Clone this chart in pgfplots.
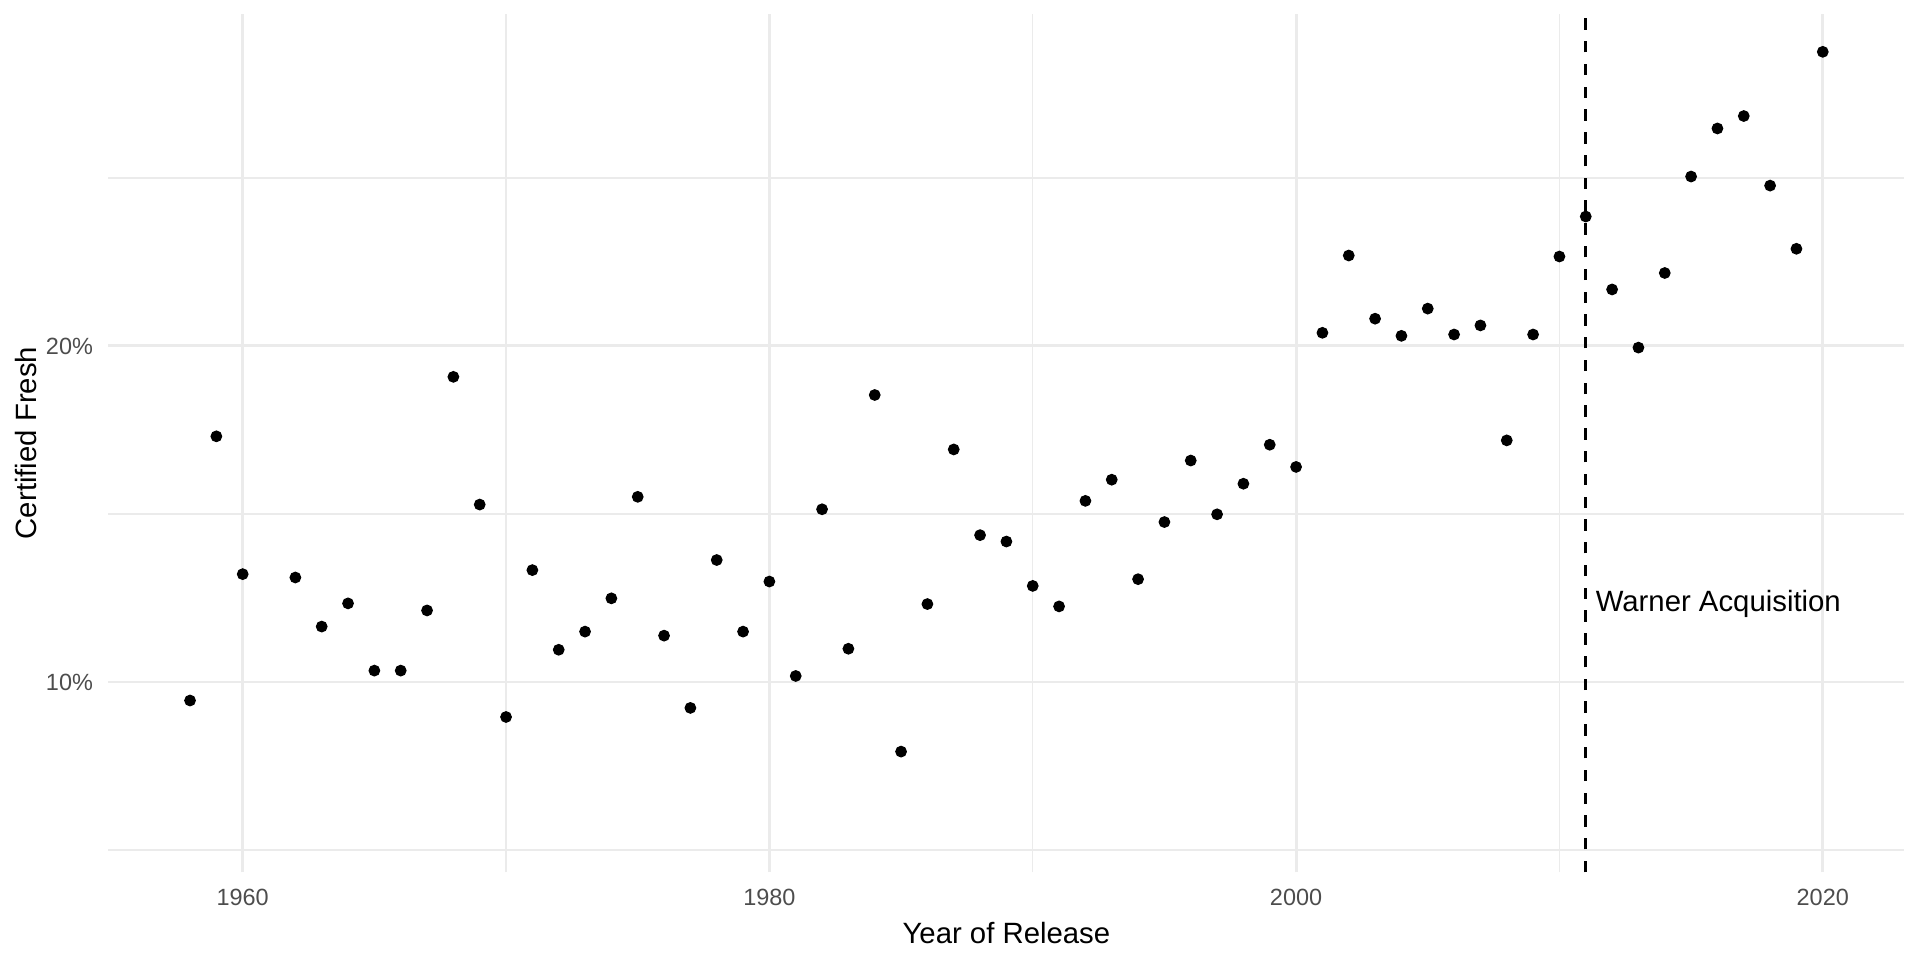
\documentclass[border=0pt]{standalone}
\usepackage{pgfplots}
\pgfplotsset{compat=1.18}
\usepackage{fontspec}
\setmainfont{Liberation Sans}
\definecolor{gridc}{HTML}{EBEBEB}
\definecolor{tickc}{HTML}{4D4D4D}
\begin{document}
\begin{tikzpicture}
\path[use as bounding box] (0,0) rectangle (720bp,360bp);
\begin{axis}[
  at={(40.65bp,32.9bp)}, anchor=south west,
  scale only axis, width=673.5bp, height=321.9bp,
  xmin=1954.9, xmax=2023.1, ymin=4.34, ymax=29.88,
  axis line style={draw=none},
  major tick length=0pt, minor tick length=0pt,
  xtick={1960,1980,2000,2020}, xticklabels={1960,1980,2000,2020},
  minor xtick={1970,1990,2010},
  ytick={10,20}, yticklabels={10\%,20\%},
  minor ytick={5,15,25},
  grid=both,
  major grid style={draw=gridc, line width=1.07bp},
  minor grid style={draw=gridc, line width=0.53bp},
  xticklabel style={anchor=north, inner sep=0pt, yshift=-6.3bp, font=\fontsize{8.8bp}{10bp}\selectfont, text=tickc},
  yticklabel style={anchor=east, inner sep=0pt, xshift=-5.6bp, font=\fontsize{8.8bp}{10bp}\selectfont, text=tickc},
  xlabel={Year of Release},
  ylabel={Certified Fresh},
  xlabel style={at={(axis description cs:0.5,-0.0836)}, anchor=south, inner sep=0pt, font=\fontsize{11bp}{13bp}\selectfont},
  ylabel style={at={(axis description cs:-0.0522,0.5)}, anchor=north, inner sep=0pt, font=\fontsize{11bp}{13bp}\selectfont},
  clip=true,
]
\addplot[black, line width=1.07bp, dash pattern=on 4.27bp off 4.27bp] coordinates {(2011,4.34) (2011,29.88)};
\addplot[only marks, mark=*, mark size=2bp, mark options={draw=black, fill=black, line width=0.4bp}] coordinates {
(1958,9.45) (1959,17.31) (1960,13.21) (1962,13.11) (1963,11.65) (1964,12.34)
(1965,10.34) (1966,10.34) (1967,12.13) (1968,19.08) (1969,15.28) (1970,8.96)
(1971,13.33) (1972,10.96) (1973,11.50) (1974,12.49) (1975,15.51) (1976,11.38)
(1977,9.23) (1978,13.63) (1979,11.50) (1980,12.99) (1981,10.18) (1982,15.14)
(1983,10.99) (1984,18.54) (1985,7.93) (1986,12.32) (1987,16.92) (1988,14.37)
(1989,14.18) (1990,12.86) (1991,12.25) (1992,15.39) (1993,16.02) (1994,13.06)
(1995,14.76) (1996,16.59) (1997,14.99) (1998,15.90) (1999,17.06) (2000,16.40)
(2001,20.39) (2002,22.69) (2003,20.81) (2004,20.30) (2005,21.11) (2006,20.34)
(2007,20.61) (2008,17.19) (2009,20.34) (2010,22.66) (2011,23.85) (2012,21.68)
(2013,19.95) (2014,22.17) (2015,25.04) (2016,26.47) (2017,26.84) (2018,24.77)
(2019,22.89) (2020,28.75)
};
\node[anchor=base west, inner sep=0pt, font=\fontsize{11bp}{13bp}\selectfont] at (axis cs:2011.36,12.11) {Warner Acquisition};
\end{axis}
\end{tikzpicture}
\end{document}
